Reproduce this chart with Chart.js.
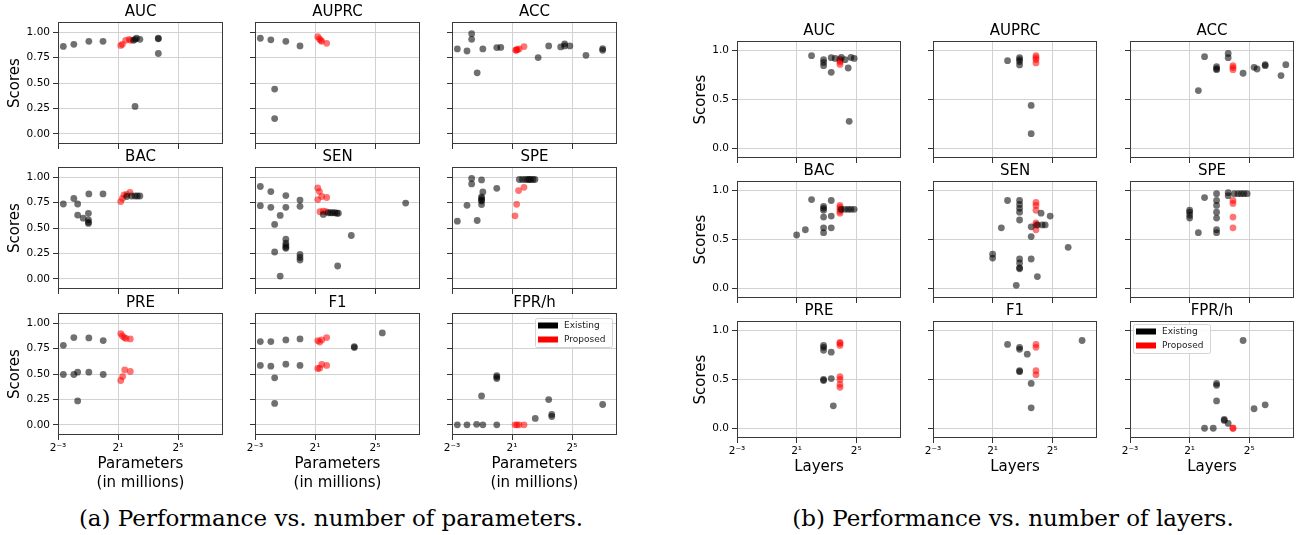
<!DOCTYPE html>
<html>
<head>
<meta charset="utf-8">
<script src="https://cdn.jsdelivr.net/npm/chart.js@4.4.1/dist/chart.umd.min.js"></script>
<style>
  body { margin: 0; background: #fff; }
  #fig { position: relative; width: 1302px; height: 535px; overflow: hidden; }
  #fig canvas { position: absolute; }
  .cap { position: absolute; font-family: "DejaVu Serif"; font-size: 23px; white-space: nowrap; transform: translate(-50%, -50%); color: #000; }
</style>
</head>
<body>
<div id="fig">
  <div class="cap" style="left:331px; top:518px;">(a) Performance vs. number of parameters.</div>
  <div class="cap" style="left:1013px; top:518px;">(b) Performance vs. number of layers.</div>
</div>
<script>
// subplot titles, in row order
const metrics = ['AUC', 'AUPRC', 'ACC', 'BAC', 'SEN', 'SPE', 'PRE', 'F1', 'FPR/h'];

// shared tick labels
const xTickValues = [0.125, 2, 32];
const xTickLabels = ['2⁻³', '2¹', '2⁵'];
const yTicksParams = [0, 0.25, 0.5, 0.75, 1];
const yTicksLayers = [0, 0.5, 1];

// (a) score vs. parameters (in millions): [params, score]
const paramsAUCExisting = [[0.16,0.86],[0.26,0.88],[0.52,0.91],[1.0,0.91],[4.1,0.92],[4.4,0.93],[4.7,0.94],[5.5,0.93],[4.4,0.27],[12.9,0.94],[12.9,0.935],[12.9,0.79]];
const paramsAUCProposed = [[2.27,0.87],[2.45,0.88],[2.85,0.92],[3.35,0.93],[3.6,0.92]];
const paramsAUPRCExisting = [[0.16,0.94],[0.26,0.925],[0.52,0.91],[1.0,0.865],[0.31,0.44],[0.31,0.15]];
const paramsAUPRCProposed = [[2.27,0.955],[2.45,0.935],[2.6,0.92],[2.73,0.91],[3.43,0.89]];
const paramsACCExisting = [[0.16,0.835],[0.25,0.815],[0.31,0.985],[0.31,0.93],[0.40,0.6],[0.52,0.835],[0.99,0.848],[1.19,0.85],[6.7,0.75],[10.9,0.865],[19,0.855],[22.8,0.885],[22.8,0.865],[29,0.865],[61,0.772],[132,0.838],[132,0.822]];
const paramsACCProposed = [[2.38,0.822],[2.45,0.825],[2.55,0.828],[2.77,0.835],[3.48,0.858]];
const paramsBACExisting = [[0.16,0.736],[0.26,0.79],[0.31,0.736],[0.31,0.627],[0.40,0.597],[0.51,0.644],[0.51,0.58],[0.51,0.557],[0.51,0.545],[0.52,0.835],[1.0,0.835],[3.0,0.81],[3.76,0.815],[4.4,0.815],[4.9,0.815],[5.5,0.815]];
const paramsBACProposed = [[2.27,0.76],[2.45,0.79],[2.64,0.825],[2.99,0.83],[3.48,0.85]];
const paramsSENExisting = [[0.16,0.908],[0.16,0.72],[0.26,0.858],[0.26,0.703],[0.31,0.535],[0.31,0.264],[0.40,0.624],[0.40,0.027],[0.52,0.819],[0.52,0.703],[0.52,0.39],[0.52,0.35],[0.52,0.33],[0.52,0.31],[0.52,0.30],[1.0,0.775],[1.0,0.713],[1.0,0.24],[1.0,0.21],[1.0,0.185],[2.93,0.634],[3.7,0.65],[4.1,0.65],[4.5,0.65],[5.0,0.65],[5.5,0.645],[5.9,0.645],[10.7,0.426],[5.7,0.126],[132,0.745]];
const paramsSENProposed = [[2.27,0.894],[2.45,0.858],[2.73,0.81],[2.27,0.78],[3.43,0.8],[2.51,0.66],[2.93,0.665],[3.32,0.66]];
const paramsSPEExisting = [[0.16,0.567],[0.25,0.723],[0.31,0.987],[0.31,0.934],[0.40,0.574],[0.49,0.973],[0.52,0.855],[0.49,0.805],[0.49,0.79],[0.49,0.775],[0.49,0.765],[0.49,0.73],[0.99,0.89],[2.81,0.977],[3.25,0.977],[3.73,0.977],[4.14,0.977],[4.44,0.977],[4.76,0.977],[5.28,0.977],[5.78,0.977]];
const paramsSPEProposed = [[2.30,0.62],[2.48,0.733],[2.71,0.868],[3.48,0.9]];
const paramsPREExisting = [[0.16,0.782],[0.26,0.858],[0.52,0.855],[1.01,0.829],[0.16,0.495],[0.26,0.495],[0.31,0.518],[0.52,0.518],[1.01,0.495],[0.31,0.235]];
const paramsPREProposed = [[2.27,0.898],[2.45,0.874],[2.68,0.858],[2.89,0.85],[3.53,0.845],[2.27,0.436],[2.48,0.475],[2.73,0.54],[3.53,0.525]];
const paramsF1Existing = [[0.16,0.819],[0.26,0.819],[0.52,0.835],[1.0,0.845],[0.16,0.584],[0.26,0.577],[0.52,0.597],[1.0,0.584],[0.31,0.462],[0.31,0.211],[12.3,0.77],[12.3,0.76],[44.9,0.904]];
const paramsF1Proposed = [[2.27,0.829],[2.48,0.815],[2.73,0.835],[3.43,0.858],[2.27,0.554],[2.48,0.557],[2.73,0.594],[3.43,0.584]];
const paramsFPRExisting = [[0.16,0],[0.25,0],[0.39,0.005],[0.52,0],[0.99,0],[0.49,0.284],[0.99,0.485],[0.99,0.47],[0.99,0.455],[5.86,0.063],[10.9,0.248],[12.55,0.102],[12.55,0.082],[132,0.2]];
const paramsFPRProposed = [[2.30,0],[2.51,0],[2.77,0],[3.48,0]];

// (b) score vs. number of layers: [layers, score]
const layersAUCExisting = [[4,0.949],[7,0.908],[7,0.88],[7,0.847],[10,0.929],[10,0.779],[12,0.921],[16,0.932],[19,0.908],[22,0.823],[23,0.276],[25,0.932],[29,0.921]];
const layersAUCProposed = [[15,0.915],[15,0.9],[15,0.885],[15,0.86]];
const layersAUPRCExisting = [[4,0.898],[7,0.93],[7,0.91],[7,0.89],[7,0.855],[12,0.439],[12,0.15]];
const layersAUPRCProposed = [[15,0.949],[15,0.93],[15,0.91],[15,0.875]];
const layersACCExisting = [[3,0.592],[4,0.939],[7,0.837],[7,0.816],[7,0.806],[12,0.972],[12,0.929],[24,0.769],[40,0.83],[46,0.813],[67,0.857],[67,0.847],[140,0.745],[175,0.857]];
const layersACCProposed = [[15,0.847],[15,0.827],[15,0.806]];
const layersBACExisting = [[2,0.546],[3,0.6],[4,0.91],[7,0.84],[7,0.82],[7,0.8],[7,0.73],[7,0.62],[7,0.57],[10,0.9],[10,0.74],[10,0.62],[16,0.81],[19,0.81],[22,0.81],[25,0.81],[29,0.81]];
const layersBACProposed = [[15,0.85],[15,0.83],[15,0.81],[15,0.79],[15,0.77]];
const layersSENExisting = [[2,0.35],[2,0.31],[3,0.62],[4,0.9],[7,0.9],[7,0.86],[7,0.82],[7,0.78],[7,0.7],[7,0.3],[7,0.26],[7,0.21],[7,0.2],[6,0.03],[12,0.63],[12,0.53],[12,0.3],[16,0.12],[16,0.65],[19,0.77],[20,0.65],[23,0.65],[29,0.74],[67,0.42]];
const layersSENProposed = [[15,0.88],[15,0.85],[15,0.8],[15,0.67],[15,0.65],[15,0.6]];
const layersSPEExisting = [[2,0.8],[2,0.78],[2,0.75],[2,0.72],[3,0.57],[4,0.93],[7,0.97],[7,0.9],[7,0.85],[7,0.78],[7,0.72],[7,0.6],[7,0.57],[12,0.98],[12,0.95],[16,0.97],[19,0.97],[22,0.97],[25,0.97],[29,0.97]];
const layersSPEProposed = [[15,0.9],[15,0.87],[15,0.73],[15,0.62]];
const layersPREExisting = [[7,0.85],[7,0.83],[7,0.8],[7,0.5],[7,0.49],[10,0.78],[10,0.51],[11,0.23]];
const layersPREProposed = [[15,0.88],[15,0.87],[15,0.85],[15,0.53],[15,0.5],[15,0.45],[15,0.42]];
const layersF1Existing = [[4,0.86],[7,0.83],[7,0.81],[7,0.59],[7,0.58],[10,0.76],[12,0.46],[12,0.21],[128,0.9]];
const layersF1Proposed = [[15,0.86],[15,0.83],[15,0.59],[15,0.55]];
const layersFPRExisting = [[4,0],[6,0],[7,0.46],[7,0.44],[7,0.28],[10,0.09],[10,0.08],[12,0.05],[24,0.9],[40,0.2],[67,0.24]];
const layersFPRProposed = [[15,0],[15,0]];

const panelA = {
  series: [
    [paramsAUCExisting, paramsAUCProposed], [paramsAUPRCExisting, paramsAUPRCProposed], [paramsACCExisting, paramsACCProposed],
    [paramsBACExisting, paramsBACProposed], [paramsSENExisting, paramsSENProposed], [paramsSPEExisting, paramsSPEProposed],
    [paramsPREExisting, paramsPREProposed], [paramsF1Existing, paramsF1Proposed], [paramsFPRExisting, paramsFPRProposed]
  ],
  left: 0, cols: [58, 255, 452], rows: [22, 167, 313], w: 165, h: 122,
  yTicks: yTicksParams, decimals: 2, xTitle: ['Parameters', '(in millions)'],
  lastRowBottom: 57, yTitlePad: 6, legendSide: 'right'
};
const panelB = {
  series: [
    [layersAUCExisting, layersAUCProposed], [layersAUPRCExisting, layersAUPRCProposed], [layersACCExisting, layersACCProposed],
    [layersBACExisting, layersBACProposed], [layersSENExisting, layersSENProposed], [layersSPEExisting, layersSPEProposed],
    [layersPREExisting, layersPREProposed], [layersF1Existing, layersF1Proposed], [layersFPRExisting, layersFPRProposed]
  ],
  left: 680, cols: [737, 933, 1130], rows: [41, 181, 321], w: 164, h: 117,
  yTicks: yTicksLayers, decimals: 1, xTitle: 'Layers',
  lastRowBottom: 38, yTitlePad: 12, legendSide: 'left'
};

const FONT = 'DejaVu Sans';

// full box around the plot area, like matplotlib spines
const boxFrame = {
  id: 'boxFrame',
  afterDraw(chart) {
    const {ctx, chartArea: a} = chart;
    ctx.save();
    ctx.strokeStyle = '#3a3a3a';
    ctx.lineWidth = 1;
    ctx.strokeRect(Math.round(a.left) + 0.5, Math.round(a.top) + 0.5, Math.round(a.width) - 1, Math.round(a.height) - 1);
    ctx.restore();
  }
};

// small framed legend in a corner of the plot area
const cornerLegend = {
  id: 'cornerLegend',
  afterDraw(chart, args, opts) {
    if (!opts.show) return;
    const {ctx, chartArea: a} = chart;
    const w = 77, h = 29;
    const x = opts.side === 'right' ? a.right - 5 - w : a.left + 3;
    const y = a.top + (opts.side === 'right' ? 5 : 3);
    ctx.save();
    ctx.fillStyle = 'rgba(255,255,255,0.85)';
    ctx.strokeStyle = '#d4d4d4';
    ctx.lineWidth = 1;
    ctx.beginPath();
    ctx.roundRect(x + 0.5, y + 0.5, w, h, 2);
    ctx.fill();
    ctx.stroke();
    const items = [['Existing', '#000'], ['Proposed', '#ff0000']];
    ctx.font = '9px "' + FONT + '"';
    ctx.textBaseline = 'middle';
    items.forEach(([label, color], i) => {
      const cy = y + 7.5 + i * 14;
      ctx.fillStyle = color;
      ctx.fillRect(x + 3, cy - 3, 20, 6);
      ctx.fillStyle = '#222';
      ctx.fillText(label, x + 29, cy);
    });
    ctx.restore();
  }
};

function makePlot(panel, idx) {
  const row = Math.floor(idx / 3), col = idx % 3;
  const [existing, proposed] = panel.series[idx];
  const plotLeft = panel.cols[col], plotTop = panel.rows[row];
  const padL = col === 0 ? plotLeft - panel.left : 14;
  const padR = 6, titleH = 19;
  const padB = row === 2 ? panel.lastRowBottom : 12;
  const canvas = document.createElement('canvas');
  canvas.width = padL + panel.w + padR;
  canvas.height = titleH + panel.h + padB;
  canvas.style.left = (plotLeft - padL) + 'px';
  canvas.style.top = (plotTop - titleH) + 'px';
  canvas.style.width = canvas.width + 'px';
  canvas.style.height = canvas.height + 'px';
  document.getElementById('fig').appendChild(canvas);

  const toPts = arr => arr.map(([x, y]) => ({x, y}));
  const pointStyle = color => ({
    backgroundColor: color, borderWidth: 0, pointBorderWidth: 0,
    pointRadius: 3.4, pointHoverRadius: 3.4
  });

  new Chart(canvas.getContext('2d'), {
    type: 'scatter',
    data: {
      datasets: [
        {label: 'Existing', data: toPts(existing), ...pointStyle('rgba(0,0,0,0.56)')},
        {label: 'Proposed', data: toPts(proposed), ...pointStyle('rgba(255,0,0,0.55)')}
      ]
    },
    options: {
      responsive: false,
      animation: false,
      devicePixelRatio: 1,
      layout: {padding: {left: 0, right: padR, top: 0, bottom: 0}},
      plugins: {
        legend: {display: false},
        tooltip: {enabled: false},
        title: {
          display: true, fullSize: false, text: metrics[idx], color: '#000',
          font: {family: FONT, size: 15, weight: 'normal', lineHeight: 1.2},
          padding: {top: 0, bottom: 1}
        },
        cornerLegend: {show: idx === 8, side: panel.legendSide}
      },
      scales: {
        x: {
          type: 'logarithmic', min: 0.125, max: 256,
          afterBuildTicks: s => { s.ticks = xTickValues.map(v => ({value: v})); },
          afterFit: s => { s.height = padB; },
          grid: {color: '#d2d2d2', lineWidth: 1, tickColor: '#333', tickLength: 5},
          border: {display: false},
          ticks: {
            display: row === 2, autoSkip: false, maxRotation: 0, padding: 2, color: '#000',
            font: {family: FONT, size: 10.5},
            callback: v => xTickLabels[xTickValues.indexOf(v)] ?? ''
          },
          title: {
            display: row === 2, text: panel.xTitle, color: '#000',
            font: {family: FONT, size: 15, lineHeight: 1.25}, padding: {top: 0, bottom: 0}
          }
        },
        y: {
          min: -0.1, max: 1.1,
          afterBuildTicks: s => { s.ticks = panel.yTicks.map(v => ({value: v})); },
          afterFit: s => { s.width = padL; },
          grid: {color: '#d2d2d2', lineWidth: 1, tickColor: '#333', tickLength: 5},
          border: {display: false},
          ticks: {
            display: col === 0, padding: 3, color: '#000',
            font: {family: FONT, size: 10.5},
            callback: v => v.toFixed(panel.decimals)
          },
          title: {
            display: col === 0, text: 'Scores', color: '#000',
            font: {family: FONT, size: 15, lineHeight: 1.2}, padding: {top: panel.yTitlePad, bottom: 0}
          }
        }
      }
    },
    plugins: [boxFrame, cornerLegend]
  });
}

for (let i = 0; i < 9; i++) {
  makePlot(panelA, i);
  makePlot(panelB, i);
}
</script>
</body>
</html>
